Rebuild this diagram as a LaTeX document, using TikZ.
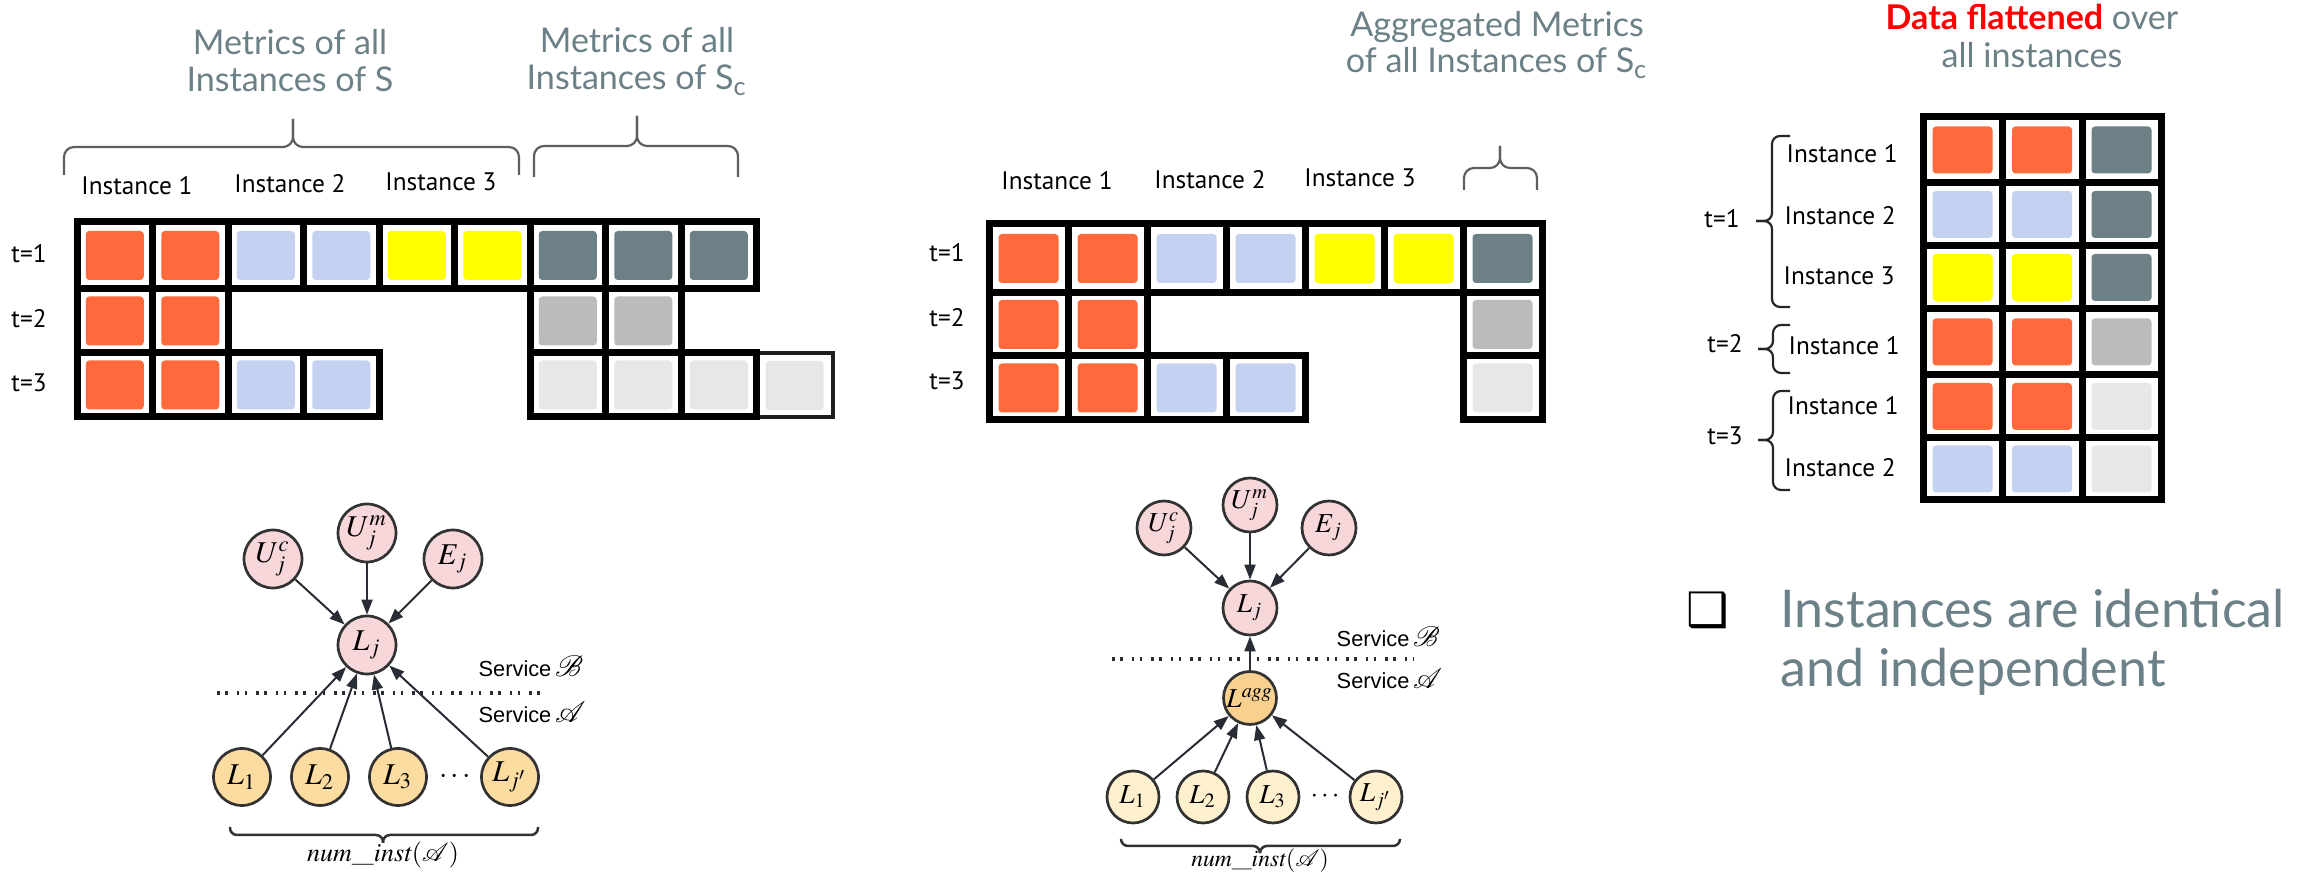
\documentclass[tikz,border=0pt]{standalone}
\usepackage{mathptmx}
\usepackage{fontspec}
\usetikzlibrary{arrows.meta,calc}
\newfontfamily\grayfont{Lato}
\newfontfamily\labfont{PT Sans}
\newfontfamily\servfont{Liberation Sans}
\newfontfamily\symfont{DejaVu Sans}
\definecolor{orng}{RGB}{255,105,59}
\definecolor{blu}{RGB}{197,209,240}
\definecolor{ylw}{RGB}{255,255,0}
\definecolor{slt}{RGB}{108,128,134}
\definecolor{gry}{RGB}{187,187,187}
\definecolor{lgry}{RGB}{231,231,231}
\definecolor{txtgray}{RGB}{107,128,135}
\definecolor{bracegray}{RGB}{95,95,95}
\definecolor{ndraw}{RGB}{50,50,50}
\definecolor{arrc}{RGB}{40,44,52}
\definecolor{pinkf}{RGB}{248,215,218}
\definecolor{ornf}{RGB}{252,220,160}
\definecolor{aggf}{RGB}{250,208,142}
\definecolor{creamf}{RGB}{255,240,206}

% one bordered cell with a coloured square centred in it
% #1 x, #2 y (top-left), #3 width, #4 height, #5 colour, #6/#7 square size
\newcommand{\mcell}[7]{%
  \draw[gridline] ({#1},{#2}) rectangle ++({#3},{#4});
  \fill[#5,rounded corners=0.35mm] ({#1+(#3-#6)/2},{#2+(#4-#7)/2}) rectangle ++({#6},{#7});
}
% horizontal brace: style, x left, x right, y of ends, y of bar, x tip, y tip
\newcommand{\hbrc}[7]{%
  \draw[#1] (#2,#4) -- (#2,#5) -- (#6,#5) -- (#6,#7);
  \draw[#1] (#3,#4) -- (#3,#5) -- (#6,#5) -- (#6,#7);
}
% vertical brace: style, y top, y bottom, x of ends, x of bar, y tip, x tip
\newcommand{\vbrc}[7]{%
  \draw[#1] (#4,#2) -- (#5,#2) -- (#5,#6) -- (#7,#6);
  \draw[#1] (#4,#3) -- (#5,#3) -- (#5,#6) -- (#7,#6);
}

\begin{document}
\begin{tikzpicture}[x=0.1mm,y=-0.1mm,
  gridline/.style={draw=black,line width=0.7mm},
  thinline/.style={draw=black!88,line width=0.45mm},
  topbrace/.style={draw=bracegray,line width=0.22mm,rounded corners=1mm},
  sidebrace/.style={draw=black!85,line width=0.22mm,rounded corners=0.8mm},
  graphbrace/.style={draw=ndraw,line width=0.25mm,rounded corners=0.7mm},
  graytxt/.style={anchor=base,inner sep=0pt,text=txtgray,font=\grayfont\fontsize{9.7}{11}\selectfont},
  lab/.style={anchor=base,inner sep=0pt,font=\labfont\fontsize{7.2}{8}\selectfont},
  rlab/.style={lab,anchor=base west},
  pnodeA/.style={circle,draw=ndraw,line width=0.27mm,fill=pinkf,minimum size=5.8mm,inner sep=0pt,font=\fontsize{8.6}{10}\selectfont},
  onodeA/.style={pnodeA,fill=ornf,minimum size=5.7mm},
  pnodeB/.style={circle,draw=ndraw,line width=0.27mm,fill=pinkf,minimum size=5.4mm,inner sep=0pt,font=\fontsize{7.8}{9}\selectfont},
  aggnode/.style={pnodeB,fill=aggf,minimum size=5.3mm},
  cnodeB/.style={pnodeB,fill=creamf,minimum size=5.2mm},
  arr/.style={draw=arrc,line width=0.2mm,-{Triangle[length=1.5mm,width=1.1mm]}},
  sep/.style={draw=arrc,line width=0.35mm,dash pattern=on 0.25mm off 0.55mm on 0.25mm off 0.9mm},
  serv/.style={anchor=base west,inner sep=0pt,font=\servfont\fontsize{6.2}{7}\selectfont},
  bigtxt/.style={anchor=base west,inner sep=0pt,text=txtgray,font=\grayfont\fontsize{14.8}{17}\selectfont}]

\fill[white] (0,0) rectangle (2310,881);
\useasboundingbox (0,0) rectangle (2310,881);

% ---------------- left panel: raw metrics of S and S_c ----------------
\node[graytxt] (ls1) at (290,55) {Metrics of all};
\node[graytxt] (ls2) at (290,92) {Instances of S};
\node[graytxt] (lc1) at (637,53) {Metrics of all};
\node[graytxt] (lc2) at (637,90) {Instances of S\textsubscript{c}};
\hbrc{topbrace}{64}{519}{175}{147}{293}{119}
\hbrc{topbrace}{534}{738}{177}{146}{637}{116}

\node[lab] (li1) at (137,195) {Instance 1};
\node[lab] (li2) at (290,193) {Instance 2};
\node[lab] (li3) at (441,191) {Instance 3};
\node[lab] (lt1) at (29,263) {t=1};
\node[lab] (lt2) at (29,328) {t=2};
\node[lab] (lt3) at (29,392) {t=3};

% extra S_c cell at t=3 (thinner frame)
\draw[thinline] (756.5,353) rectangle (833,417);
\fill[lgry,rounded corners=0.35mm] (765.5,361) rectangle ++(58,49);

\foreach \c [count=\k from 0] in {orng,orng,blu,blu,ylw,ylw,slt,slt,slt}
  {\mcell{77+75.5*\k}{222}{75.5}{67}{\c}{58}{49}}
\foreach \k/\c in {0/orng,1/orng,6/gry,7/gry}
  {\mcell{77+75.5*\k}{289}{75.5}{64}{\c}{58}{49}}
\foreach \k/\c in {0/orng,1/orng,2/blu,3/blu,6/lgry,7/lgry,8/lgry}
  {\mcell{77+75.5*\k}{353}{75.5}{64}{\c}{58}{49}}

% ---------------- middle panel: aggregated metrics of S_c ----------------
\node[graytxt] (ma1) at (1497,37) {Aggregated Metrics};
\node[graytxt] (ma2) at (1497,73) {of all Instances of S\textsubscript{c}};
\hbrc{topbrace}{1464}{1537}{190}{168}{1500}{146}

\node[lab] (mi1) at (1057,190) {Instance 1};
\node[lab] (mi2) at (1210,189) {Instance 2};
\node[lab] (mi3) at (1360,187) {Instance 3};
\node[lab] (mt1) at (947,262) {t=1};
\node[lab] (mt2) at (947,327) {t=2};
\node[lab] (mt3) at (947,390) {t=3};

\foreach \c [count=\k from 0] in {orng,orng,blu,blu,ylw,ylw,slt}
  {\mcell{989+79*\k}{224}{79}{69}{\c}{60}{49}}
\foreach \k/\c in {0/orng,1/orng,6/gry}
  {\mcell{989+79*\k}{293}{79}{63}{\c}{60}{49}}
\foreach \k/\c in {0/orng,1/orng,2/blu,3/blu,6/lgry}
  {\mcell{989+79*\k}{356}{79}{64}{\c}{60}{49}}

% ---------------- right panel: flattened data ----------------
\node[graytxt,font=\grayfont\fontsize{9.7}{11}\selectfont] (rf1) at (2032,30)
  {{\bfseries\color{red}Data flattened} over};
\node[graytxt,font=\grayfont\fontsize{9.7}{11}\selectfont] (rf2) at (2032,68) {all instances};

\foreach \y/\h/\ca/\cb in {117/66/orng/slt,183/63/blu/slt,246/63/ylw/slt,309/66/orng/gry,375/63/orng/lgry,438/62/blu/lgry}
  {\mcell{1923}{\y}{79}{\h}{\ca}{60}{47}
   \mcell{2002}{\y}{80}{\h}{\ca}{60}{47}
   \mcell{2082}{\y}{79}{\h}{\cb}{60}{47}}

\node[rlab] (ri1) at (1786,163) {Instance 1};
\node[rlab] (ri2) at (1784,225) {Instance 2};
\node[rlab] (ri3) at (1783,285) {Instance 3};
\node[rlab] (ri4) at (1788,355) {Instance 1};
\node[rlab] (ri5) at (1787,415) {Instance 1};
\node[rlab] (ri6) at (1784,477) {Instance 2};
\node[lab] (rt1) at (1722,228) {t=1};
\node[lab] (rt2) at (1725,353) {t=2};
\node[lab] (rt3) at (1725,445) {t=3};
\vbrc{sidebrace}{136}{307}{1790}{1772}{221}{1756}
\vbrc{sidebrace}{325}{373}{1790}{1773}{349}{1758}
\vbrc{sidebrace}{391}{490}{1790}{1773}{440}{1758}

\node[inner sep=0pt,font=\symfont\fontsize{13.5}{14}\selectfont] (chk) at (1708,610) {❑};
\node[bigtxt] (bt1) at (1780,628) {Instances are identical};
\node[bigtxt] (bt2) at (1780,687) {and independent};

% ---------------- left graphical model ----------------
\node[pnodeA] (auc) at (273,559) {$U_j^c$};
\node[pnodeA] (aum) at (367,533) {$U_j^m$};
\node[pnodeA] (ae)  at (453,559) {$E_j$};
\node[pnodeA] (alj) at (367,645) {$L_j$};
\node[onodeA] (al1) at (242,777) {$L_1$};
\node[onodeA] (al2) at (320,777) {$L_2$};
\node[onodeA] (al3) at (398,777) {$L_3$};
\node[onodeA] (alk) at (510,777) {$L_{j'}$};
\node[inner sep=0pt,font=\fontsize{8.6}{10}\selectfont] (adots) at (455,777) {$\cdots$};
\foreach \s in {auc,aum,ae,al1,al2,al3,alk} {\draw[arr] (\s) -- (alj);}
\coordinate (asl) at (217,693);
\coordinate (asr) at (548,693);
\draw[sep] (asl) -- (asr);
\node[serv] (asb) at (478,677) {Service\,{\fontsize{8.4}{9}\selectfont$\mathcal{B}$}};
\node[serv] (asa) at (478,723) {Service\,{\fontsize{8.4}{9}\selectfont$\mathcal{A}$}};
\hbrc{graphbrace}{230}{538}{827}{835}{383}{843}
\node[anchor=base,inner sep=0pt,font=\fontsize{7.4}{9}\selectfont] (ani) at (383,862) {$\mathit{num\_inst}(\mathcal{A})$};

% ---------------- middle graphical model ----------------
\node[pnodeB] (buc) at (1164,528) {$U_j^c$};
\node[pnodeB] (bum) at (1250,505) {$U_j^m$};
\node[pnodeB] (be)  at (1329,528) {$E_j$};
\node[pnodeB] (blj) at (1250,608) {$L_j$};
\node[aggnode] (bag) at (1250,698) {$L^{agg}$};
\node[cnodeB] (bl1) at (1133,797) {$L_1$};
\node[cnodeB] (bl2) at (1203,797) {$L_2$};
\node[cnodeB] (bl3) at (1273,797) {$L_3$};
\node[cnodeB] (blk) at (1376,797) {$L_{j'}$};
\node[inner sep=0pt,font=\fontsize{7.8}{9}\selectfont] (bdots) at (1325,797) {$\cdots$};
\foreach \s in {buc,bum,be,bag} {\draw[arr] (\s) -- (blj);}
\foreach \s in {bl1,bl2,bl3,blk} {\draw[arr] (\s) -- (bag);}
\coordinate (bsl) at (1112,659);
\coordinate (bsr) at (1414,659);
\draw[sep] (bsl) -- (bsr);
\node[serv] (bsb) at (1336,647) {Service\,{\fontsize{8}{9}\selectfont$\mathcal{B}$}};
\node[serv] (bsa) at (1336,689) {Service\,{\fontsize{8}{9}\selectfont$\mathcal{A}$}};
\hbrc{graphbrace}{1121}{1400}{840}{846}{1260}{852}
\node[anchor=base,inner sep=0pt,font=\fontsize{6.7}{8}\selectfont] (bni) at (1260,867) {$\mathit{num\_inst}(\mathcal{A})$};
\end{tikzpicture}
\end{document}
